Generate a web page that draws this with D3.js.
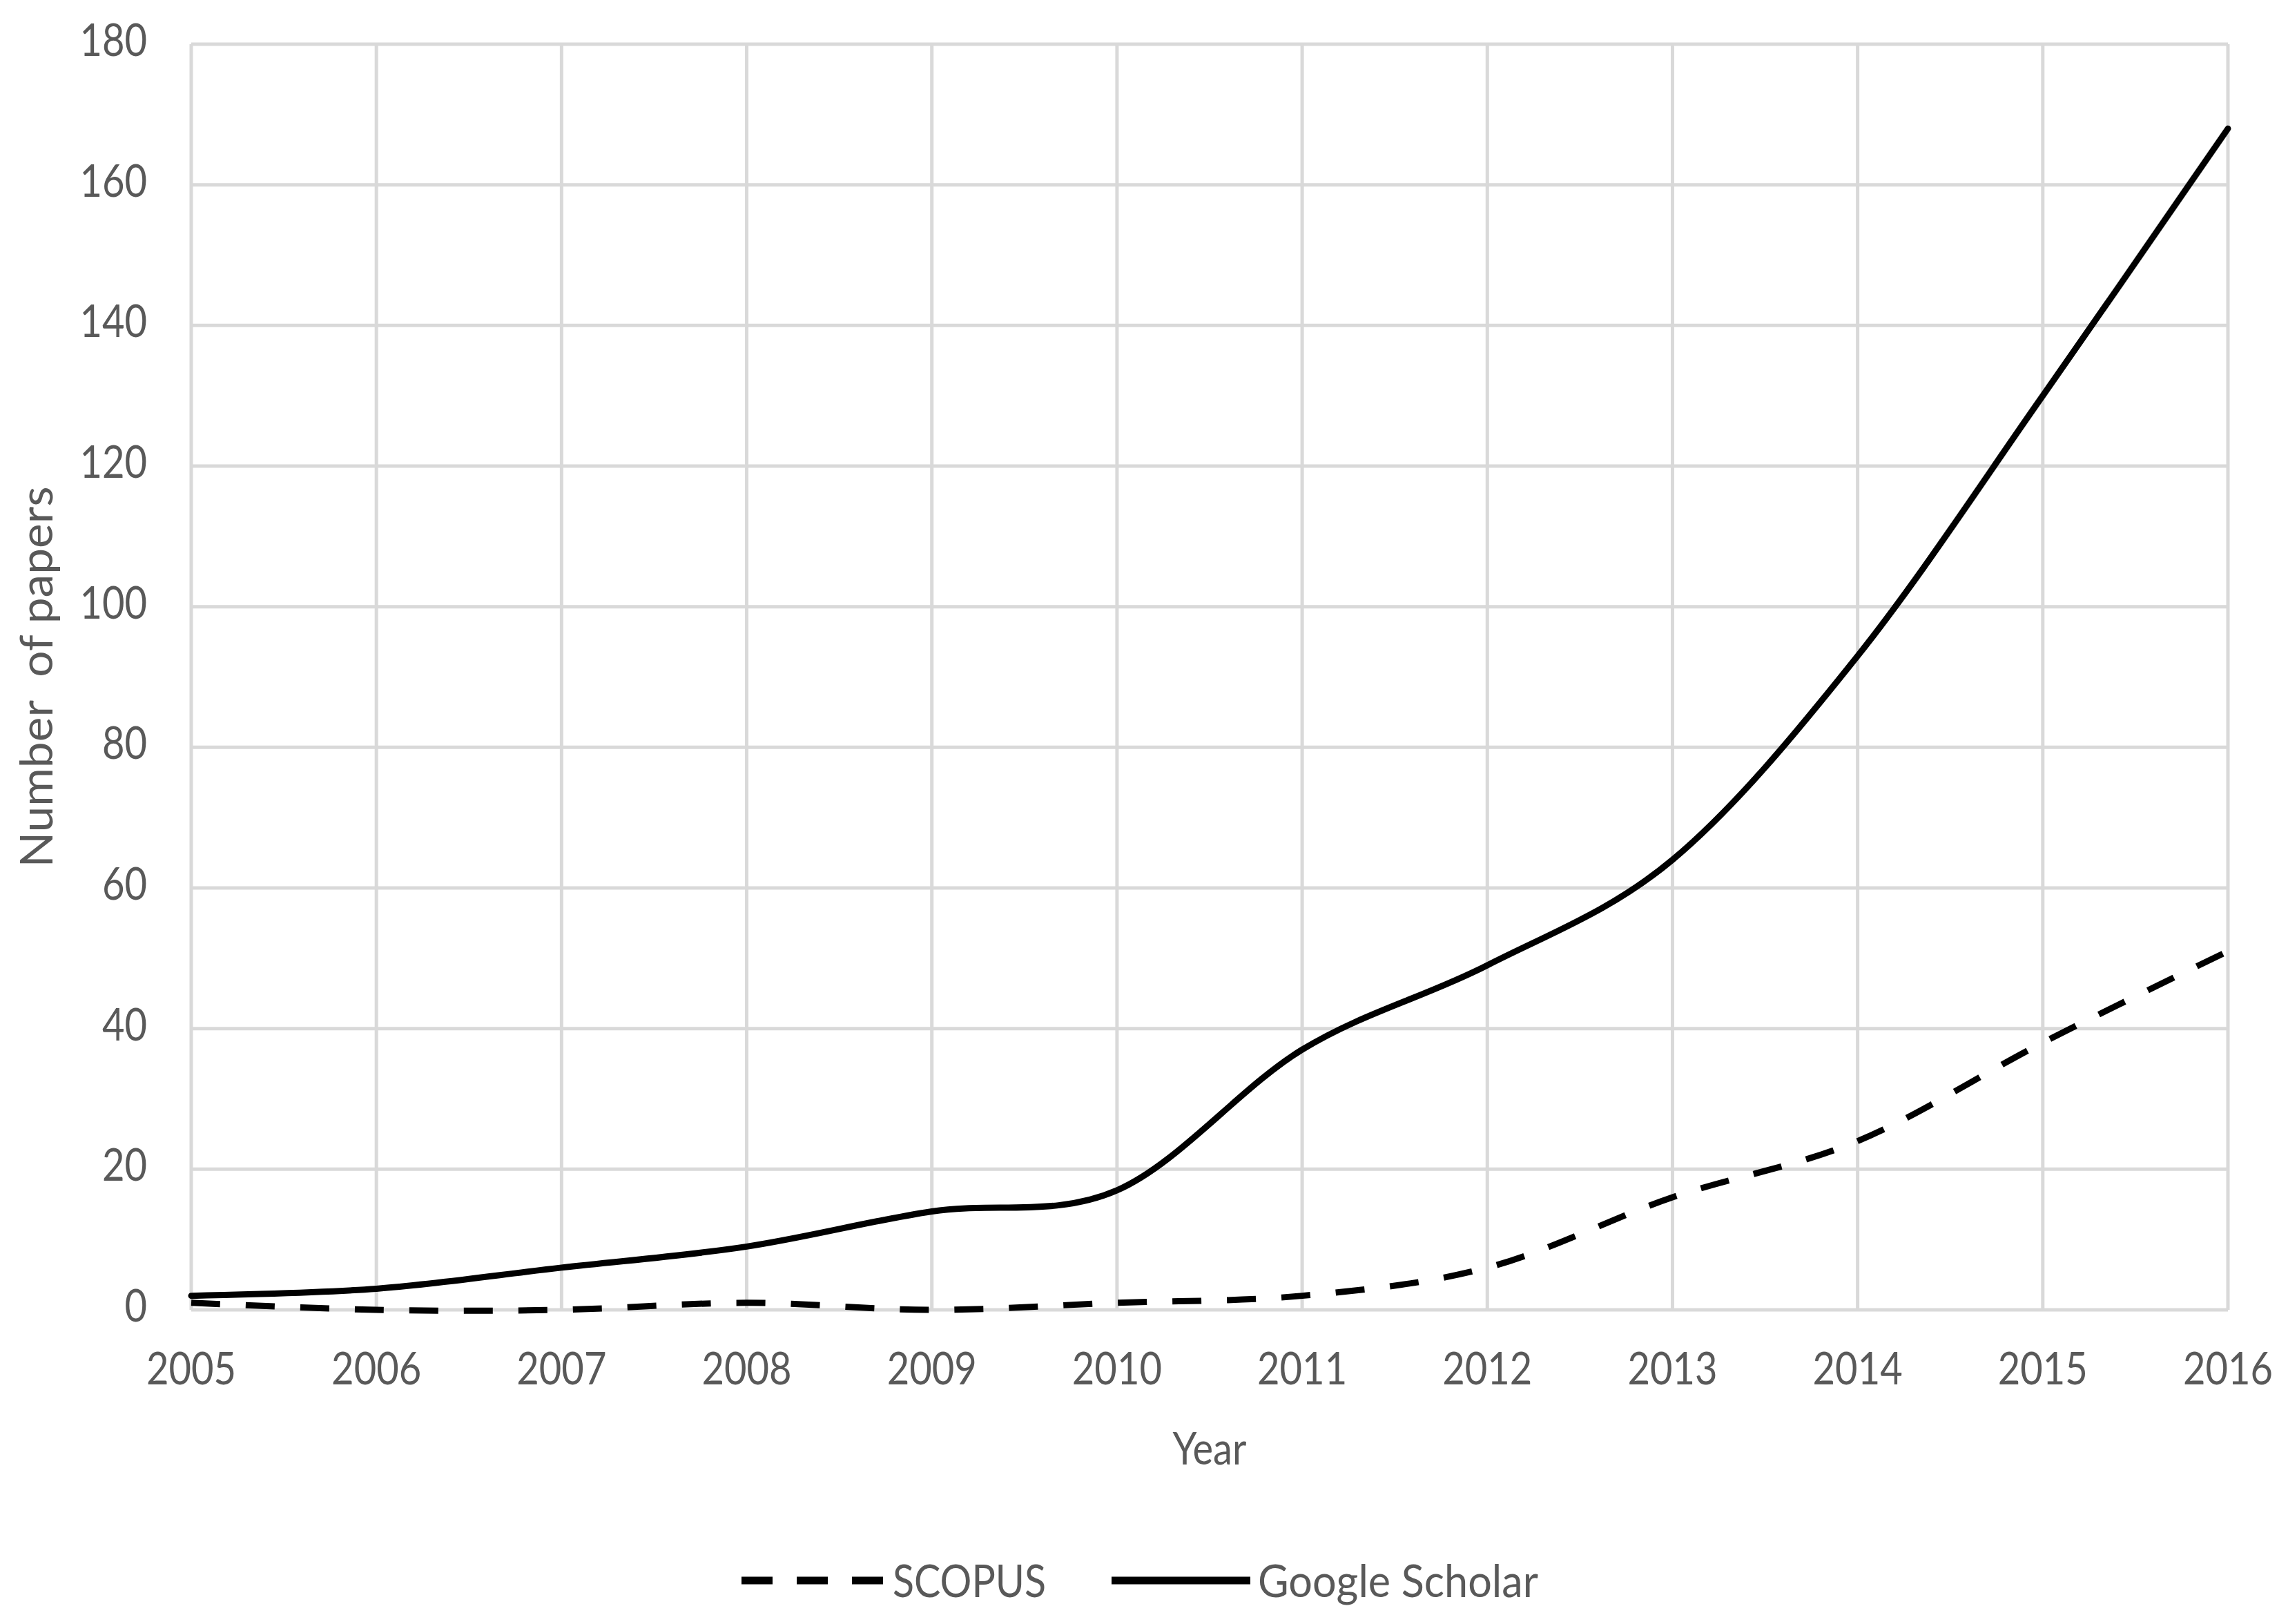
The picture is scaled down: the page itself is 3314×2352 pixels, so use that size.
<!DOCTYPE html>
<html>
<head>
<meta charset="utf-8">
<script src="https://cdn.jsdelivr.net/npm/d3@7"></script>
<style>
  html, body { margin: 0; padding: 0; background: #ffffff; }
  svg { display: block; }
  text { font-family: Lato, "Open Sans", sans-serif; fill: #595959; }
</style>
</head>
<body>
<script>
// ---- data ----
const years = [2005, 2006, 2007, 2008, 2009, 2010, 2011, 2012, 2013, 2014, 2015, 2016];
const scopus = [1, 0, 0, 1, 0, 1, 2, 6, 16, 24, 38, 51];
const googleScholar = [2, 3, 6, 9, 14, 17, 37, 49, 64, 93, 130, 168];
const yTicks = [0, 20, 40, 60, 80, 100, 120, 140, 160, 180];
const seriesNames = ["SCOPUS", "Google Scholar"];
const xTitle = "Year";
const yTitle = "Number  of papers";

// ---- layout ----
const W = 3314, H = 2352;
const mLeft = 277, mRight = 3227, mTop = 64, mBottom = 1897;
const fontSize = 66, squeeze = 0.85;

const svg = d3.select("body").append("svg").attr("width", W).attr("height", H);

const x = d3.scaleLinear().domain([years[0], years[years.length - 1]]).range([mLeft, mRight]);
const y = d3.scaleLinear().domain([0, 180]).range([mBottom, mTop]);

const grid = svg.append("g");
grid.selectAll("line.h").data(yTicks).join("line")
  .attr("x1", mLeft).attr("x2", mRight)
  .attr("y1", d => y(d)).attr("y2", d => y(d))
  .attr("stroke", "#d9d9d9").attr("stroke-width", 5);
grid.selectAll("line.v").data(years).join("line")
  .attr("y1", mTop).attr("y2", mBottom)
  .attr("x1", d => x(d)).attr("x2", d => x(d))
  .attr("stroke", "#d9d9d9").attr("stroke-width", 5);

function label(g, px, py, txt, anchor) {
  return g.append("g").attr("transform", `translate(${px},${py}) scale(${squeeze},1)`)
    .append("text").attr("text-anchor", anchor).attr("font-size", fontSize).text(txt);
}

const yAx = svg.append("g");
yTicks.forEach(v => label(yAx, 213, y(v) + 17, String(v), "end"));

const xAx = svg.append("g");
years.forEach(v => label(xAx, x(v), 2005, String(v), "middle"));

label(svg, (mLeft + mRight) / 2, 2121, xTitle, "middle");
svg.append("g").attr("transform", `translate(76,${(mTop + mBottom) / 2}) rotate(-90)`)
  .append("text").attr("text-anchor", "middle").attr("font-size", fontSize)
  .attr("textLength", 552).attr("lengthAdjust", "spacingAndGlyphs")
  .style("white-space", "pre").text(yTitle);

const line = d3.line().x((d, i) => x(years[i])).y(d => y(d)).curve(d3.curveCardinal.tension(0));
svg.append("path").datum(scopus).attr("d", line)
  .attr("fill", "none").attr("stroke", "#000").attr("stroke-width", 9)
  .attr("stroke-dasharray", "42,37");
svg.append("path").datum(googleScholar).attr("d", line)
  .attr("fill", "none").attr("stroke", "#000").attr("stroke-width", 9)
  .attr("stroke-linecap", "round");

const ly = 2289;
const leg = svg.append("g");
leg.append("line").attr("x1", 1074).attr("x2", 1280).attr("y1", ly).attr("y2", ly)
  .attr("stroke", "#000").attr("stroke-width", 11).attr("stroke-dasharray", "45,35");
leg.append("text").attr("x", 1293).attr("y", ly + 24).attr("font-size", fontSize)
  .attr("textLength", 222).attr("lengthAdjust", "spacingAndGlyphs").text(seriesNames[0]);
leg.append("line").attr("x1", 1610).attr("x2", 1811).attr("y1", ly).attr("y2", ly)
  .attr("stroke", "#000").attr("stroke-width", 11);
leg.append("text").attr("x", 1822).attr("y", ly + 24).attr("font-size", fontSize)
  .attr("textLength", 406).attr("lengthAdjust", "spacingAndGlyphs").text(seriesNames[1]);
</script>
</body>
</html>
